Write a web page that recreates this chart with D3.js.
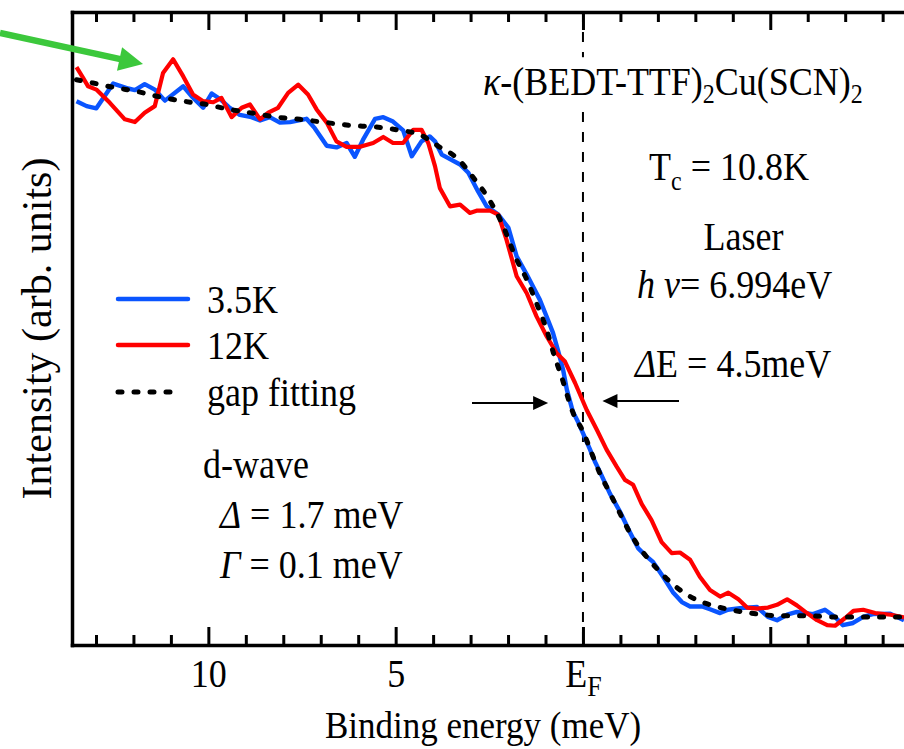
<!DOCTYPE html>
<html>
<head>
<meta charset="utf-8">
<script src="https://cdn.jsdelivr.net/npm/d3@7"></script>
<style>
  html, body { margin: 0; padding: 0; background: #fff; }
  svg { display: block; }
  text { font-family: "Liberation Serif", "Times New Roman", Times, serif; fill: #000; }
</style>
</head>
<body>
<svg id="chart" width="904" height="749"></svg>
<script>
// ---- data: binding energy (meV, positive below E_F) and intensity (arb. units) ----
const energy35K = [13.52,13.25,12.99,12.54,12.14,11.96,11.70,11.43,11.16,10.67,10.45,10.14,9.91,9.69,9.43,9.16,8.85,8.62,8.36,8.09,7.82,7.38,7.16,6.84,6.58,6.31,6.09,5.87,5.55,5.33,5.07,4.80,4.57,4.31,4.09,3.95,3.77,3.28,3.06,2.80,2.57,2.26,1.99,1.77,1.50,1.15,0.96,0.80,0.67,0.53,0.43,0.27,0.13,0.00,-0.19,-0.32,-0.45,-0.72,-0.99,-1.26,-1.47,-1.68,-1.87,-2.14,-2.40,-2.64,-2.86,-3.18,-3.39,-3.66,-3.87,-4.19,-4.65,-4.94,-5.18,-5.45,-5.71,-6.14,-6.46,-6.73,-6.94,-7.21,-7.48,-7.74,-8.20,-8.57];
const intensity35K = [98.8,97.9,97.5,102.0,101.1,100.8,101.9,100.9,98.9,101.5,99.7,97.6,100.2,99.2,97.6,96.3,95.9,95.3,95.9,94.9,95.0,95.6,93.9,90.7,90.4,91.2,88.7,91.8,95.6,95.9,95.1,93.5,88.8,91.5,92.4,91.5,89.1,87.3,85.8,82.4,79.7,78.2,75.8,70.6,67.3,62.7,59.5,56.7,53.6,50.0,46.4,42.4,40.5,38.5,35.5,33.3,31.5,27.5,24.2,20.4,17.6,16.2,15.1,12.4,9.6,7.8,7.0,7.0,6.5,5.8,6.4,6.7,6.9,5.1,4.5,5.5,6.0,5.6,6.4,5.1,3.6,4.0,5.1,5.6,5.7,4.5];

const energy12K = [13.52,13.34,13.21,12.99,12.63,12.23,11.96,11.70,11.43,11.21,10.94,10.67,10.41,10.14,9.87,9.65,9.38,9.11,8.89,8.62,8.40,8.14,7.87,7.60,7.34,7.11,6.84,6.58,6.31,5.95,5.60,5.33,5.07,4.80,4.53,4.31,4.13,3.95,3.82,3.55,3.28,3.02,2.84,2.48,2.26,2.04,1.77,1.50,1.24,0.97,0.70,0.48,0.21,-0.10,-0.37,-0.63,-0.90,-1.12,-1.34,-1.57,-1.83,-2.10,-2.37,-2.59,-2.86,-3.12,-3.39,-3.66,-3.88,-4.15,-4.38,-4.65,-4.94,-5.18,-5.45,-5.71,-5.98,-6.25,-6.52,-6.73,-7.00,-7.22,-7.48,-7.80,-8.22,-8.57];
const intensity12K = [105.0,103.0,101.5,100.9,98.5,95.5,95.0,96.7,97.9,103.9,106.4,103.3,100.0,98.8,98.6,99.4,95.9,97.6,98.2,95.5,96.7,97.6,100.3,101.8,100.0,97.3,94.9,91.5,90.5,90.5,91.2,92.3,91.2,91.2,93.6,93.6,91.2,87.0,83.0,79.7,80.0,78.5,78.9,78.9,78.2,73.6,67.0,63.9,59.7,56.1,53.0,51.5,47.6,42.7,39.1,35.5,32.4,30.0,29.1,25.6,22.7,18.7,16.7,16.8,15.5,12.4,10.0,8.8,9.5,8.3,6.8,6.6,6.8,7.3,8.3,7.2,5.8,4.5,3.6,3.5,4.9,6.2,6.4,5.8,5.5,5.0];

// d-wave gap fit (3.5 K)
const energyFit = [13.52,13.08,12.45,11.92,11.38,10.67,10.05,9.51,8.71,8.18,7.56,6.84,6.22,5.51,4.89,4.35,3.86,3.37,2.88,2.53,2.17,1.77,1.50,1.24,0.97,0.79,0.57,0.26,0.00,-0.23,-0.45,-0.72,-0.99,-1.26,-1.52,-1.97,-2.37,-2.86,-3.39,-3.88,-4.37,-4.81,-5.35,-5.97,-6.68,-7.31,-7.93,-8.57];
const intensityFit = [102.7,102.1,101.2,100.6,99.7,98.8,98.2,97.4,96.5,95.9,95.5,94.9,94.4,94.1,93.5,92.7,90.6,88.5,84.5,81.2,76.7,70.0,66.4,62.1,57.3,53.1,48.7,42.1,38.8,34.9,31.2,27.6,23.9,20.3,17.6,13.9,11.2,8.8,7.3,6.5,5.9,5.5,5.3,5.3,5.1,5.1,5.1,5.1];

// axis definitions
const energyDomain = [13.64, -8.57];
const intensityDomain = [0, 115];
const majorTicks = [10, 5, 0, -5];
const majorTickLabels = ["10", "5", "E", ""];
const minorTicks = [13,12,11,9,8,7,6,4,3,2,1,-1,-2,-3,-4,-6,-7,-8];

const seriesNames = ["3.5K", "12K", "gap fitting"];

// ---- layout ----
const plot = { left: 72, top: 12, right: 904, bottom: 645 };
const STRETCH = 1.1;
const BLUE = "#0a55ff", RED = "#ff0000", GREEN = "#3cc83c";
const SERIF = '"Liberation Serif","Times New Roman",Times,serif';

const svg = d3.select("#chart");

const x = d3.scaleLinear().domain(energyDomain).range([plot.left, plot.right]);
const y = d3.scaleLinear().domain(intensityDomain).range([plot.bottom, plot.top]);

svg.append("defs").append("clipPath").attr("id", "plotClip")
  .append("rect")
  .attr("x", plot.left).attr("y", plot.top)
  .attr("width", plot.right - plot.left).attr("height", plot.bottom - plot.top);

// E_F reference line
svg.append("line")
  .attr("x1", x(0)).attr("x2", x(0))
  .attr("y1", plot.top).attr("y2", plot.bottom)
  .attr("stroke", "#000").attr("stroke-width", 2)
  .attr("stroke-dasharray", "10 10");

// ---- text helper (serif, slightly tall glyphs) ----
function addText(parent, px, py, parts, opts = {}) {
  const g = parent.append("g")
    .attr("transform", `translate(${px},${py}) scale(1,${opts.stretch || STRETCH})`);
  const t = g.append("text")
    .attr("font-size", opts.size || 36)
    .attr("text-anchor", opts.anchor || "start");
  parts.forEach(p => {
    const ts = t.append("tspan").text(p.t);
    if (p.i) ts.attr("font-style", "italic");
    if (p.size) ts.attr("font-size", p.size);
    if (p.dy) ts.attr("dy", p.dy);
  });
  return { g, t };
}

// compound title with white backing
const title = addText(svg, 483, 95, [
  { t: "κ", i: true },
  { t: "-(BEDT-TTF)" },
  { t: "2", size: 24, dy: 7 },
  { t: "Cu(SCN)", dy: -7 },
  { t: "2", size: 24, dy: 7 }
]);
const tb = title.t.node().getBBox();
title.g.insert("rect", "text")
  .attr("x", tb.x - 4).attr("y", tb.y - 2)
  .attr("width", tb.width + 8).attr("height", tb.height + 4)
  .attr("fill", "#fff");

// ---- axes ----
function styleAxis(g) {
  g.select(".domain").attr("stroke-width", 3.5).attr("stroke-linecap", "square");
  g.selectAll(".tick line").attr("stroke-width", 3);
}

// bottom
const gxMinor = svg.append("g").attr("transform", `translate(0,${plot.bottom})`)
  .call(d3.axisBottom(x).tickValues(minorTicks).tickSizeInner(-10).tickSizeOuter(0).tickFormat(""));
styleAxis(gxMinor);
const gxMajor = svg.append("g").attr("transform", `translate(0,${plot.bottom})`)
  .call(d3.axisBottom(x).tickValues(majorTicks).tickSizeInner(-18).tickSizeOuter(0)
    .tickPadding(12.6).tickFormat((d, i) => majorTickLabels[i]));
gxMajor.attr("font-family", SERIF).attr("font-size", 36);
gxMajor.select(".domain").remove();
gxMajor.selectAll(".tick line").attr("stroke-width", 3);
gxMajor.selectAll(".tick text")
  .attr("transform", `scale(1,${STRETCH})`)
  .attr("fill", "#000");
gxMajor.selectAll(".tick text").filter(d => d === 0)
  .append("tspan").attr("font-size", 26).attr("dy", 8).text("F");

// top
const gtMinor = svg.append("g").attr("transform", `translate(0,${plot.top})`)
  .call(d3.axisTop(x).tickValues(minorTicks).tickSizeInner(-10).tickSizeOuter(0).tickFormat(""));
styleAxis(gtMinor);
const gtMajor = svg.append("g").attr("transform", `translate(0,${plot.top})`)
  .call(d3.axisTop(x).tickValues(majorTicks).tickSizeInner(-18).tickSizeOuter(0).tickFormat(""));
gtMajor.select(".domain").remove();
gtMajor.selectAll(".tick line").attr("stroke-width", 3);

// left
const gy = svg.append("g").attr("transform", `translate(${plot.left},0)`)
  .call(d3.axisLeft(y).tickValues([]).tickSizeOuter(0));
styleAxis(gy);

// ---- spectra ----
const lineLin = d3.line().x(d => x(d[0])).y(d => y(d[1]));
const lineSmooth = d3.line().curve(d3.curveMonotoneX).x(d => x(d[0])).y(d => y(d[1]));

const curves = svg.append("g").attr("clip-path", "url(#plotClip)");
curves.append("path").datum(d3.zip(energy35K, intensity35K))
  .attr("d", lineLin).attr("fill", "none").attr("stroke", BLUE)
  .attr("stroke-width", 4.4).attr("stroke-linejoin", "round");
curves.append("path").datum(d3.zip(energy12K, intensity12K))
  .attr("d", lineLin).attr("fill", "none").attr("stroke", RED)
  .attr("stroke-width", 4.2).attr("stroke-linejoin", "round");
curves.append("path").datum(d3.zip(energyFit, intensityFit))
  .attr("d", lineSmooth).attr("fill", "none").attr("stroke", "#000")
  .attr("stroke-width", 5).attr("stroke-dasharray", "4 12").attr("stroke-linecap", "round");

// ---- legend ----
const legend = svg.append("g");
const legendRows = [
  { name: seriesNames[0], color: BLUE, dash: null, y: 299, len: 70 },
  { name: seriesNames[1], color: RED, dash: null, y: 345, len: 70 },
  { name: seriesNames[2], color: "#000", dash: "4 12", y: 392, len: 60 }
];
legendRows.forEach(r => {
  legend.append("line")
    .attr("x1", 118).attr("x2", 118 + r.len)
    .attr("y1", r.y).attr("y2", r.y)
    .attr("stroke", r.color).attr("stroke-width", r.dash ? 5 : 4.5)
    .attr("stroke-linecap", "round")
    .attr("stroke-dasharray", r.dash);
  addText(legend, 207, r.y + 14, [{ t: r.name }]);
});

// ---- annotations ----
addText(svg, 649, 180, [{ t: "T" }, { t: "c", size: 24, dy: 9 }, { t: " = 10.8K", dy: -9 }]);
addText(svg, 743.5, 250, [{ t: "Laser" }], { anchor: "middle" });
addText(svg, 637, 298, [{ t: "h", i: true }, { t: " ν", i: true }, { t: "= 6.994eV" }]);
addText(svg, 635, 377, [{ t: "Δ", i: true }, { t: "E = 4.5meV" }]);

addText(svg, 203, 478, [{ t: "d-wave" }]);
addText(svg, 220, 528, [{ t: "Δ", i: true }, { t: " = 1.7 meV" }]);
addText(svg, 220, 578, [{ t: "Γ", i: true }, { t: " = 0.1 meV" }]);

// resolution arrows around E_F
function arrow(x1, x2, yy) {
  const dir = Math.sign(x2 - x1);
  const head = 15, half = 7;
  svg.append("line")
    .attr("x1", x1).attr("x2", x2 - dir * head + dir)
    .attr("y1", yy).attr("y2", yy)
    .attr("stroke", "#000").attr("stroke-width", 2);
  svg.append("path")
    .attr("d", `M${x2},${yy} L${x2 - dir * head},${yy - half} L${x2 - dir * head},${yy + half} Z`)
    .attr("fill", "#000");
}
arrow(472, x(0.93), 403);
arrow(679, x(-0.52), 401);

// green pointer toward the 12 K peak region
(function () {
  const x0 = 0, y0 = 33, tx = 143, ty = 64;
  const ang = Math.atan2(ty - y0, tx - x0);
  const head = 24, half = 12;
  const bx = tx - head * Math.cos(ang), by = ty - head * Math.sin(ang);
  const nx = -Math.sin(ang), ny = Math.cos(ang);
  svg.append("line")
    .attr("x1", x0).attr("y1", y0).attr("x2", bx + 2 * Math.cos(ang)).attr("y2", by + 2 * Math.sin(ang))
    .attr("stroke", GREEN).attr("stroke-width", 6.5);
  svg.append("path")
    .attr("d", `M${tx},${ty} L${bx + nx * half},${by + ny * half} L${bx - nx * half},${by - ny * half} Z`)
    .attr("fill", GREEN);
})();

// ---- axis titles ----
addText(svg, 483, 738, [{ t: "Binding energy (meV)" }], { anchor: "middle", size: 35 });
svg.append("text")
  .attr("transform", `translate(51,${(plot.top + plot.bottom) / 2}) rotate(-90)`)
  .attr("text-anchor", "middle")
  .attr("font-size", 42)
  .text("Intensity (arb. units)");
</script>
</body>
</html>
